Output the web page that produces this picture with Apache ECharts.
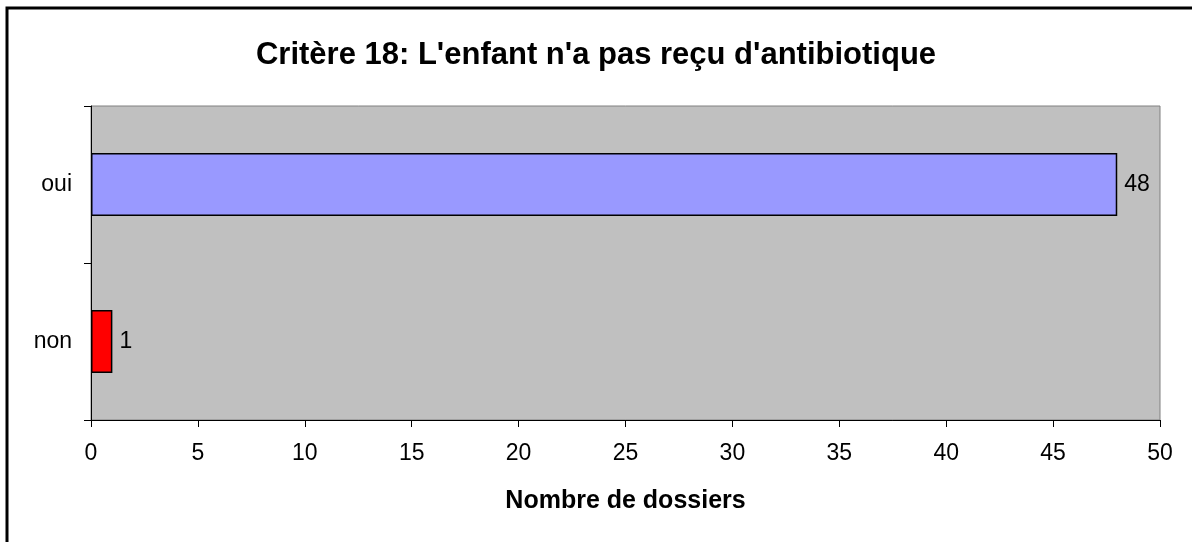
<!DOCTYPE html>
<html>
	<head>
		<meta charset="utf-8">
		<title>Critère 18</title>
		<script src="https://cdn.jsdelivr.net/npm/echarts@6/dist/echarts.min.js"></script>
		<style>
			body { margin: 0; background: #fff; }
			#main { width: 1192px; height: 542px; }
		</style>
	</head>
	<body>
		<div id="main"></div>
		<script type="text/javascript">
			// données du graphique
			var titre = "Critère 18: L'enfant n'a pas reçu d'antibiotique";
			var categories = ['non', 'oui'];
			var valeurs = [1, 48];
			var couleurs = ['#FF0000', '#9999FF'];
			var nomAxe = 'Nombre de dossiers';

			var police = 'Liberation Sans, Arial, sans-serif';
			var myChart = echarts.init(document.getElementById('main'));

			myChart.setOption({
				backgroundColor: '#ffffff',
				animation: false,
				title: {
					text: titre,
					left: 'center',
					top: 35,
					textStyle: { fontFamily: police, fontSize: 31, fontWeight: 'bold', color: '#000' }
				},
				// cadre du graphique
				graphic: [{
					type: 'polyline',
					shape: { points: [[7, 542], [7, 8], [1192, 8]] },
					style: { stroke: '#000', lineWidth: 3, fill: null }
				}],
				grid: {
					left: 91,
					right: 32,
					top: 106,
					bottom: 122,
					show: true,
					backgroundColor: '#C0C0C0',
					borderColor: '#808080',
					borderWidth: 1
				},
				xAxis: {
					type: 'value',
					min: 0,
					max: 50,
					interval: 5,
					name: nomAxe,
					nameLocation: 'middle',
					nameGap: 69,
					nameTextStyle: { fontFamily: police, fontSize: 25, fontWeight: 'bold', color: '#000' },
					axisLine: { show: true, lineStyle: { color: '#000', width: 1 } },
					axisTick: { show: true, length: 7, lineStyle: { color: '#000' } },
					splitLine: { show: false },
					axisLabel: { fontFamily: police, fontSize: 23, color: '#000', margin: 22 }
				},
				yAxis: {
					type: 'category',
					data: categories,
					axisLine: { show: true, lineStyle: { color: '#000', width: 1 } },
					axisTick: { show: true, length: 7, lineStyle: { color: '#000' } },
					axisLabel: { fontFamily: police, fontSize: 23, color: '#000', margin: 19 }
				},
				series: [{
					type: 'bar',
					barWidth: '40%',
					data: valeurs.map(function (v, i) {
						return { value: v, itemStyle: { color: couleurs[i] } };
					}),
					itemStyle: { borderColor: '#000', borderWidth: 1.5 },
					label: {
						show: true,
						position: 'right',
						distance: 7,
						fontFamily: police,
						fontSize: 23,
						color: '#000'
					}
				}]
			});
		</script>
	</body>
</html>
